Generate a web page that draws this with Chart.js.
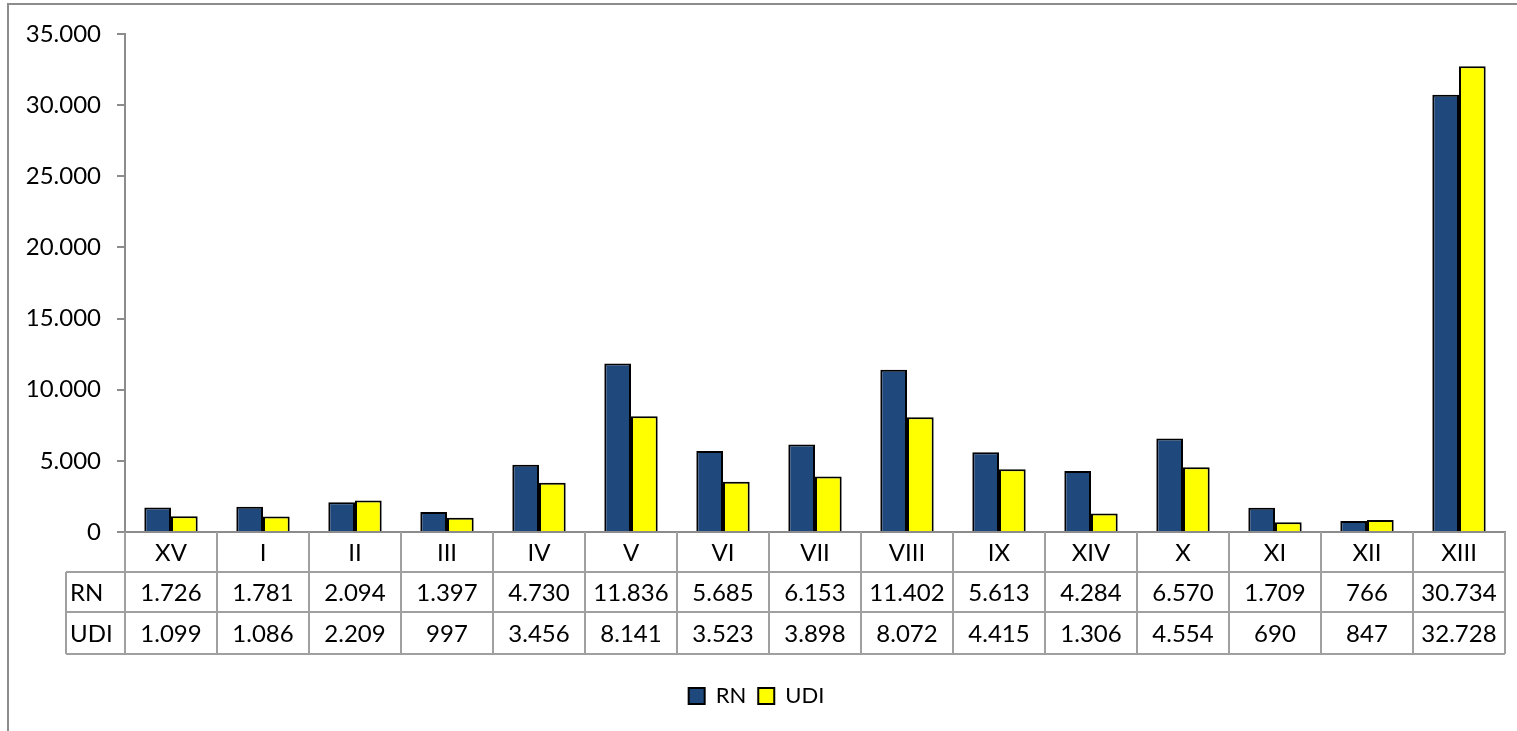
<!DOCTYPE html>
<html>
<head>
<meta charset="utf-8">
<script src="https://cdn.jsdelivr.net/npm/chart.js@4.4.0/dist/chart.umd.min.js"></script>
<style>
  html, body { margin: 0; padding: 0; background: #fff; }
  #wrap { width: 1517px; height: 731px; position: relative; }
</style>
</head>
<body>
<div id="wrap"><canvas id="regionChart"></canvas></div>
<script>
// categories and series
var regions = ["XV", "I", "II", "III", "IV", "V", "VI", "VII", "VIII", "IX", "XIV", "X", "XI", "XII", "XIII"];
var rnValues = [1726, 1781, 2094, 1397, 4730, 11836, 5685, 6153, 11402, 5613, 4284, 6570, 1709, 766, 30734];
var udiValues = [1099, 1086, 2209, 997, 3456, 8141, 3523, 3898, 8072, 4415, 1306, 4554, 690, 847, 32728];
var yTicks = [0, 5000, 10000, 15000, 20000, 25000, 30000, 35000];

var FONT = "Lato, 'Open Sans', sans-serif";
var GRAY = '#8c8c8c';

function fmt(v) {
    return String(v).replace(/\B(?=(\d{3})+(?!\d))/g, '.');
}

// draws the data table under the x axis and the outer frame
var tablePlugin = {
    id: 'dataTable',
    afterDraw: function (chart) {
        var ctx = chart.ctx;
        var x = chart.scales.x;
        var area = chart.chartArea;
        var rowH = [40, 40, 42];
        var top = area.bottom;
        var labelLeft = 66;
        var colW = (area.right - area.left) / regions.length;
        var rows = [
            { label: null, vals: regions },
            { label: 'RN', vals: rnValues.map(fmt) },
            { label: 'UDI', vals: udiValues.map(fmt) }
        ];

        ctx.save();
        ctx.strokeStyle = '#a0a0a0';
        ctx.lineWidth = 2;
        ctx.font = '24px ' + FONT;
        ctx.fillStyle = '#000';
        ctx.textBaseline = 'middle';

        var y = top;
        rows.forEach(function (row, r) {
            var h = rowH[r];
            var left = row.label ? labelLeft : area.left;
            // bottom line of the row
            ctx.beginPath();
            ctx.moveTo(left, y + h);
            ctx.lineTo(area.right, y + h);
            ctx.stroke();
            // label rows also get the row-label column
            if (row.label) {
                ctx.beginPath();
                ctx.moveTo(labelLeft, y);
                ctx.lineTo(area.left, y);
                ctx.stroke();
                ctx.beginPath();
                ctx.moveTo(labelLeft, y);
                ctx.lineTo(labelLeft, y + h);
                ctx.stroke();
                ctx.textAlign = 'left';
                ctx.fillText(row.label, labelLeft + 4, y + h / 2 + 1);
            }
            for (var i = 0; i <= regions.length; i++) {
                var lx = area.left + i * colW;
                ctx.beginPath();
                ctx.moveTo(lx, y);
                ctx.lineTo(lx, y + h);
                ctx.stroke();
            }
            ctx.textAlign = 'center';
            row.vals.forEach(function (v, i) {
                ctx.fillText(v, x.getPixelForValue(i), y + h / 2 + 1);
            });
            y += h;
        });

        // outer frame of the chart object
        ctx.strokeStyle = GRAY;
        ctx.lineWidth = 2;
        ctx.beginPath();
        ctx.moveTo(8, chart.height);
        ctx.lineTo(8, 4);
        ctx.lineTo(chart.width, 4);
        ctx.stroke();
        ctx.restore();
    }
};

var ctx = document.getElementById("regionChart").getContext('2d');
var regionChart = new Chart(ctx, {
    type: 'bar',
    data: {
        labels: regions,
        datasets: [
            {
                label: "RN",
                data: rnValues,
                backgroundColor: '#1f497d',
                borderColor: '#000',
                borderWidth: 2
            },
            {
                label: "UDI",
                data: udiValues,
                backgroundColor: '#ffff00',
                borderColor: '#000',
                borderWidth: 2
            }
        ]
    },
    options: {
        responsive: true,
        maintainAspectRatio: false,
        animation: false,
        datasets: { bar: { barPercentage: 1, categoryPercentage: 0.58 } },
        layout: { padding: { left: 8, right: 12, top: 34, bottom: 14 } },
        plugins: {
            legend: {
                position: 'bottom',
                labels: {
                    boxWidth: 16,
                    boxHeight: 16,
                    padding: 12,
                    color: '#000',
                    font: { family: FONT, size: 22 }
                }
            },
            tooltip: { enabled: false }
        },
        scales: {
            x: {
                ticks: { display: false },
                grid: { display: false },
                border: { color: GRAY, width: 2 },
                afterFit: function (scale) { scale.height = 141; }
            },
            y: {
                min: 0,
                max: 35000,
                afterBuildTicks: function (scale) {
                    scale.ticks = yTicks.map(function (v) { return { value: v }; });
                },
                ticks: {
                    color: '#000',
                    padding: 16,
                    font: { family: FONT, size: 24 },
                    callback: function (v) { return fmt(v); }
                },
                grid: { drawOnChartArea: false, drawTicks: true, tickLength: 8, color: GRAY, lineWidth: 2 },
                border: { color: GRAY, width: 2 },
                afterFit: function (scale) { scale.width = 117; }
            }
        }
    },
    plugins: [tablePlugin]
});
</script>
</body>
</html>
